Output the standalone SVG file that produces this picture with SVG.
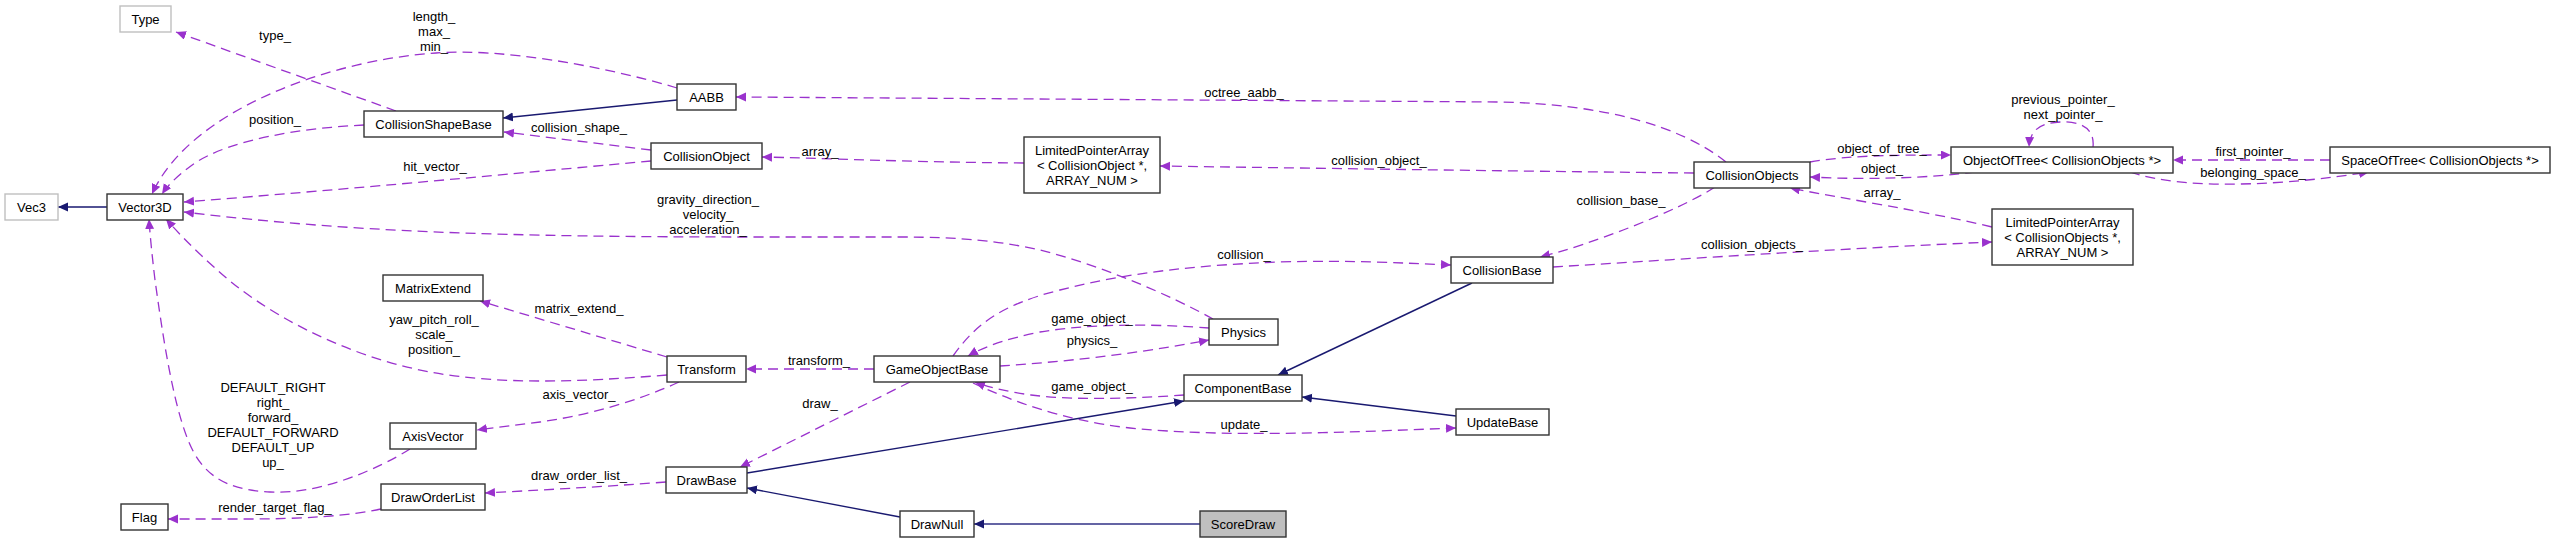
<svg xmlns="http://www.w3.org/2000/svg" width="2556" height="543" viewBox="0 0 2556 543">
<style>
text{font-family:"Liberation Sans",Arial,sans-serif;font-size:13px;fill:#000;text-anchor:middle}
.n rect{fill:#fff;stroke:#333;stroke-width:1.4}
.n.g rect{stroke:#bfbfbf}
.n.cur rect{fill:#bfbfbf}
.d{fill:none;stroke:#9a32cd;stroke-width:1.3;stroke-dasharray:10,6}
.s{fill:none;stroke:#191970;stroke-width:1.4}
.sl{fill:none;stroke:#6464a4;stroke-width:2}
.d{marker-end:url(#ap)}
.s,.sl{marker-end:url(#an)}
</style>
<defs>
<marker id="ap" markerUnits="userSpaceOnUse" markerWidth="11" markerHeight="10" refX="10" refY="4.5" orient="auto"><path d="M0,0 L10,4.5 L0,9 z" fill="#9a32cd"/></marker>
<marker id="an" markerUnits="userSpaceOnUse" markerWidth="11" markerHeight="10" refX="10" refY="4.5" orient="auto"><path d="M0,0 L10,4.5 L0,9 z" fill="#191970"/></marker>
</defs>
<rect width="2556" height="543" fill="#fff"/>
<g id="edges">
<path class="s" d="M107,207 L58,207"/>
<path class="d" d="M396,111 L176,32"/>
<path class="d" d="M677,88 C600,65 500,48 436,53 C330,60 190,110 152,194"/>
<path class="s" d="M677,100 L503,118"/>
<path class="d" d="M364,125 C300,128 230,140 195,163 C178,175 168,185 162,194"/>
<path class="d" d="M651,150 L504,132"/>
<path class="d" d="M651,161 C550,170 400,185 184,202"/>
<path class="d" d="M1213,319 C1170,295 1100,265 1040,250 C1000,241 960,237 900,237 L760,237 C500,237 350,232 184,212"/>
<path class="d" d="M667,375 C580,382 500,385 430,372 C340,355 260,310 215,268 C195,250 180,235 166,219"/>
<path class="d" d="M410,449 C380,468 320,495 270,492 C220,490 200,470 188,440 C172,400 162,330 155,280 C152,255 150,235 149,219"/>
<path class="d" d="M667,357 L480,301"/>
<path class="d" d="M679,382 C640,400 590,415 540,422 C510,426 490,428 477,430"/>
<path class="d" d="M666,482 C600,487 540,490 485,493"/>
<path class="d" d="M381,509 C350,516 300,519 250,519 L168,519"/>
<path class="d" d="M874,369 L746,369"/>
<path class="d" d="M910,382 L740,467"/>
<path class="s" d="M747,473 L1184,401"/>
<path class="s" d="M900,517 L747,488"/>
<path class="sl" d="M1200,524 L974,524"/>
<path class="s" d="M1472,283 L1278,375"/>
<path class="s" d="M1456,416 L1302,397"/>
<path class="d" d="M1184,395 C1140,398 1080,401 1031,395 C1010,392 990,388 975,382"/>
<path class="d" d="M973,383 C1010,400 1060,420 1130,428 C1230,438 1350,432 1456,428"/>
<path class="d" d="M1209,328 C1170,325 1100,322 1040,332 C1010,338 985,346 968,356"/>
<path class="d" d="M1000,366 C1060,362 1130,355 1209,340"/>
<path class="d" d="M953,356 C975,325 1000,305 1060,290 C1130,272 1200,265 1280,262 C1350,260 1400,263 1451,265"/>
<path class="d" d="M1726,162 C1680,125 1600,104 1500,102 L736,97"/>
<path class="d" d="M1694,173 C1500,171 1300,168 1160,166"/>
<path class="d" d="M1024,163 C900,162 820,158 762,157"/>
<path class="d" d="M1715,187 C1680,210 1590,245 1540,257"/>
<path class="d" d="M1553,267 C1700,258 1850,248 1992,242"/>
<path class="d" d="M1992,227 C1920,210 1850,200 1790,188"/>
<path class="d" d="M1810,162 C1850,155 1900,155 1951,155"/>
<path class="d" d="M1975,172 C1930,178 1870,180 1810,177"/>
<path class="d" d="M2093,147 C2095,128 2080,121 2060,122 C2040,123 2030,130 2029,147"/>
<path class="d" d="M2330,160 L2173,160"/>
<path class="d" d="M2130,172 C2160,182 2200,185 2241,184 C2290,183 2330,178 2369,172"/>
<text x="275" y="40">type_</text>
<text x="434" y="21">length_</text>
<text x="434" y="36">max_</text>
<text x="434" y="51">min_</text>
<text x="275" y="124">position_</text>
<text x="579" y="132">collision_shape_</text>
<text x="435" y="171">hit_vector_</text>
<text x="708" y="204">gravity_direction_</text>
<text x="708" y="219">velocity_</text>
<text x="708" y="234">acceleration_</text>
<text x="434" y="324">yaw_pitch_roll_</text>
<text x="434" y="339">scale_</text>
<text x="434" y="354">position_</text>
<text x="273" y="392">DEFAULT_RIGHT</text>
<text x="273" y="407">right_</text>
<text x="273" y="422">forward_</text>
<text x="273" y="437">DEFAULT_FORWARD</text>
<text x="273" y="452">DEFAULT_UP</text>
<text x="273" y="467">up_</text>
<text x="579" y="313">matrix_extend_</text>
<text x="579" y="399">axis_vector_</text>
<text x="579" y="480">draw_order_list_</text>
<text x="275" y="512">render_target_flag_</text>
<text x="819" y="365">transform_</text>
<text x="820" y="408">draw_</text>
<text x="1092" y="391">game_object_</text>
<text x="1244" y="429">update_</text>
<text x="1092" y="323">game_object_</text>
<text x="1092" y="345">physics_</text>
<text x="1244" y="259">collision_</text>
<text x="1244" y="97">octree_aabb_</text>
<text x="1379" y="165">collision_object_</text>
<text x="820" y="156">array_</text>
<text x="1621" y="205">collision_base_</text>
<text x="1752" y="249">collision_objects_</text>
<text x="1882" y="197">array_</text>
<text x="1882" y="153">object_of_tree_</text>
<text x="1882" y="173">object_</text>
<text x="2063" y="104">previous_pointer_</text>
<text x="2063" y="119">next_pointer_</text>
<text x="2253" y="156">first_pointer_</text>
<text x="2253" y="177">belonging_space_</text>
</g>
<g id="Type" class="n g"><rect x="120" y="6" width="51" height="26"/><text x="145.5" y="23.5">Type</text></g>
<g id="Vec3" class="n g"><rect x="5" y="194" width="53" height="26"/><text x="31.5" y="211.5">Vec3</text></g>
<g id="Vector3D" class="n"><rect x="107" y="194" width="76" height="26"/><text x="145" y="211.5">Vector3D</text></g>
<g id="CollisionShapeBase" class="n"><rect x="364" y="111" width="139" height="26"/><text x="433.5" y="128.5">CollisionShapeBase</text></g>
<g id="AABB" class="n"><rect x="677" y="84" width="59" height="26"/><text x="706.5" y="101.5">AABB</text></g>
<g id="CollisionObject" class="n"><rect x="651" y="143" width="111" height="26"/><text x="706.5" y="160.5">CollisionObject</text></g>
<g id="LimitedPointerArrayCollisionObject" class="n"><rect x="1024" y="137" width="136" height="56"/><text x="1092" y="154.5">LimitedPointerArray</text><text x="1092" y="169.5">&lt; CollisionObject *,</text><text x="1092" y="184.5">ARRAY_NUM &gt;</text></g>
<g id="CollisionObjects" class="n"><rect x="1694" y="162" width="116" height="26"/><text x="1752" y="179.5">CollisionObjects</text></g>
<g id="ObjectOfTree" class="n"><rect x="1951" y="147" width="222" height="26"/><text x="2062" y="164.5">ObjectOfTree&lt; CollisionObjects *&gt;</text></g>
<g id="SpaceOfTree" class="n"><rect x="2330" y="147" width="220" height="26"/><text x="2440" y="164.5">SpaceOfTree&lt; CollisionObjects *&gt;</text></g>
<g id="LimitedPointerArrayCollisionObjects" class="n"><rect x="1992" y="209" width="141" height="56"/><text x="2062.5" y="226.5">LimitedPointerArray</text><text x="2062.5" y="241.5">&lt; CollisionObjects *,</text><text x="2062.5" y="256.5">ARRAY_NUM &gt;</text></g>
<g id="CollisionBase" class="n"><rect x="1451" y="257" width="102" height="26"/><text x="1502" y="274.5">CollisionBase</text></g>
<g id="MatrixExtend" class="n"><rect x="383" y="275" width="100" height="26"/><text x="433" y="292.5">MatrixExtend</text></g>
<g id="Transform" class="n"><rect x="667" y="356" width="79" height="26"/><text x="706.5" y="373.5">Transform</text></g>
<g id="GameObjectBase" class="n"><rect x="874" y="356" width="126" height="26"/><text x="937" y="373.5">GameObjectBase</text></g>
<g id="Physics" class="n"><rect x="1209" y="319" width="69" height="26"/><text x="1243.5" y="336.5">Physics</text></g>
<g id="ComponentBase" class="n"><rect x="1184" y="375" width="118" height="26"/><text x="1243" y="392.5">ComponentBase</text></g>
<g id="UpdateBase" class="n"><rect x="1456" y="409" width="93" height="26"/><text x="1502.5" y="426.5">UpdateBase</text></g>
<g id="AxisVector" class="n"><rect x="390" y="423" width="86" height="26"/><text x="433" y="440.5">AxisVector</text></g>
<g id="DrawOrderList" class="n"><rect x="381" y="484" width="104" height="26"/><text x="433" y="501.5">DrawOrderList</text></g>
<g id="Flag" class="n"><rect x="121" y="504" width="47" height="26"/><text x="144.5" y="521.5">Flag</text></g>
<g id="DrawBase" class="n"><rect x="666" y="467" width="81" height="26"/><text x="706.5" y="484.5">DrawBase</text></g>
<g id="DrawNull" class="n"><rect x="900" y="511" width="74" height="26"/><text x="937" y="528.5">DrawNull</text></g>
<g id="ScoreDraw" class="n cur"><rect x="1200" y="511" width="86" height="26"/><text x="1243" y="528.5">ScoreDraw</text></g>
</svg>
